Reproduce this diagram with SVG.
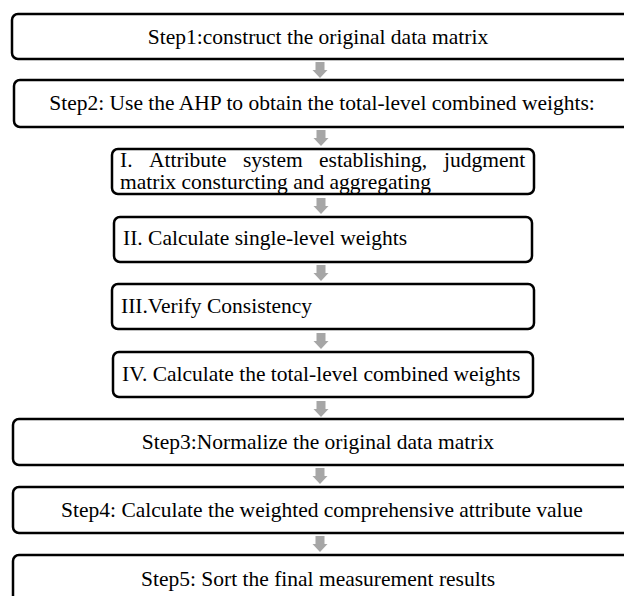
<svg xmlns="http://www.w3.org/2000/svg" xmlns:xlink="http://www.w3.org/1999/xlink" width="624" height="596" viewBox="0 0 624 596">
  <style>
    .box { fill: #ffffff; stroke: #000000; stroke-width: 2.5; }
    .t { font-family: "Liberation Serif", "Times New Roman", serif; font-size: 21.5px; fill: #000000; }
    .c { text-anchor: middle; }
    .arrow { fill: #a6a6a6; }
  </style>
  <defs>
    <path id="arr" d="M -4.5 0 L 4.5 0 L 4.5 8 L 7.5 8 L 0 16 L -7.5 8 L -4.5 8 Z"/>
  </defs>
  <rect width="624" height="596" fill="#ffffff"/>

  <g id="connectors" class="arrow">
    <use xlink:href="#arr" href="#arr" transform="translate(320,62)"/>
    <use xlink:href="#arr" href="#arr" transform="translate(321,130)"/>
    <use xlink:href="#arr" href="#arr" transform="translate(321,198)"/>
    <use xlink:href="#arr" href="#arr" transform="translate(321,265)"/>
    <use xlink:href="#arr" href="#arr" transform="translate(321,333)"/>
    <use xlink:href="#arr" href="#arr" transform="translate(321,401)"/>
    <use xlink:href="#arr" href="#arr" transform="translate(320,468)"/>
    <use xlink:href="#arr" href="#arr" transform="translate(320,536)"/>
  </g>

  <g id="step1">
    <rect class="box" x="12" y="14" width="640" height="45" rx="6"/>
    <text class="t c" x="318" y="44">Step1:construct the original data matrix</text>
  </g>

  <g id="step2">
    <rect class="box" x="14" y="80" width="640" height="47" rx="6"/>
    <text class="t c" x="322" y="110">Step2: Use the AHP to obtain the total-level combined weights:</text>
  </g>

  <g id="sub1">
    <rect class="box" x="112" y="149" width="422" height="45" rx="6"/>
    <text class="t" y="167"><tspan x="120">I.</tspan><tspan x="149">Attribute</tspan><tspan x="243">system</tspan><tspan x="319">establishing,</tspan><tspan x="444">judgment</tspan></text>
    <text class="t" x="120" y="189">matrix consturcting and aggregating</text>
  </g>

  <g id="sub2">
    <rect class="box" x="114" y="217" width="418" height="45" rx="6"/>
    <text class="t" x="123" y="245">II. Calculate single-level weights</text>
  </g>

  <g id="sub3">
    <rect class="box" x="112" y="284" width="422" height="45" rx="6"/>
    <text class="t" x="121" y="313">III.Verify Consistency</text>
  </g>

  <g id="sub4">
    <rect class="box" x="113" y="352" width="420" height="45" rx="6"/>
    <text class="t" x="122" y="381">IV. Calculate the total-level combined weights</text>
  </g>

  <g id="step3">
    <rect class="box" x="13" y="419" width="640" height="46" rx="6"/>
    <text class="t c" x="318" y="449">Step3:Normalize the original data matrix</text>
  </g>

  <g id="step4">
    <rect class="box" x="13" y="487" width="640" height="46" rx="6"/>
    <text class="t c" x="322" y="517">Step4: Calculate the weighted comprehensive attribute value</text>
  </g>

  <g id="step5">
    <rect class="box" x="13" y="555" width="640" height="48" rx="6"/>
    <text class="t c" x="318" y="586">Step5: Sort the final measurement results</text>
  </g>
</svg>
